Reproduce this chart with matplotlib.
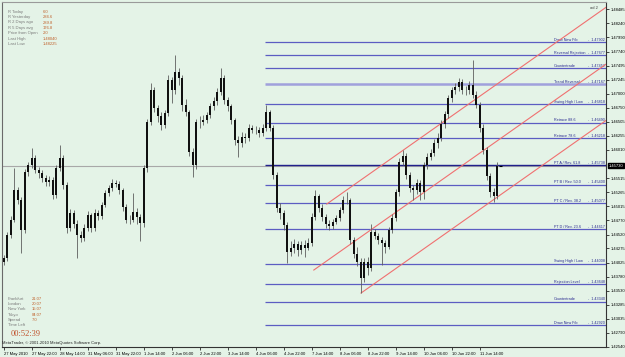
import matplotlib
matplotlib.use("Agg")
import matplotlib.pyplot as plt
from matplotlib.transforms import blended_transform_factory

W, H = 625, 357
BASE = 1.40          # candle values are in pips above this price
PIP = 0.0001

# 2-hour candles, 27 May 2010 06:00 .. 11 Jun 2010
first_open = 404
closes = [411, 451, 478, 530, 513, 460, 562, 574, 587, 565, 560, 551, 544, 548, 522, 569,
          587, 539, 463, 490, 471, 451, 446, 463, 486, 463, 490, 485, 504, 525, 534, 543,
          541, 530, 500, 478, 478, 492, 483, 472, 569, 650, 706, 675, 661, 645, 666, 724,
          706, 738, 728, 680, 668, 597, 574, 650, 650, 654, 662, 678, 687, 703, 728, 689,
          678, 654, 618, 613, 624, 622, 640, 636, 636, 631, 640, 668, 640, 557, 499, 490,
          469, 421, 428, 435, 425, 434, 428, 437, 483, 520, 499, 483, 471, 467, 474, 481,
          495, 513, 513, 442, 418, 404, 375, 404, 393, 456, 450, 442, 437, 430, 460, 481,
          527, 580, 590, 557, 534, 530, 543, 527, 574, 589, 596, 613, 622, 647, 664, 692,
          706, 712, 721, 706, 706, 715, 698, 680, 640, 601, 555, 527, 520, 573]
highs = [416, 456, 484, 569, 536, 518, 568, 580, 604, 592, 571, 566, 556, 555, 553, 574,
         610, 592, 545, 497, 495, 477, 458, 470, 494, 490, 497, 495, 510, 531, 540, 549,
         548, 546, 534, 505, 486, 525, 498, 488, 575, 656, 719, 712, 680, 668, 672, 733,
         730, 768, 745, 733, 690, 672, 604, 656, 660, 662, 668, 684, 694, 710, 745, 733,
         695, 682, 658, 625, 632, 630, 646, 645, 643, 641, 646, 680, 672, 644, 562, 508,
         495, 474, 440, 445, 440, 440, 442, 446, 490, 530, 524, 505, 488, 477, 480, 487,
         501, 519, 527, 517, 448, 430, 410, 410, 412, 470, 462, 455, 448, 442, 466, 488,
         533, 586, 601, 595, 562, 540, 550, 548, 580, 595, 602, 620, 630, 653, 670, 698,
         712, 718, 728, 726, 714, 722, 759, 704, 685, 646, 606, 560, 534, 580]
lows = [398, 406, 446, 474, 506, 419, 455, 555, 570, 560, 552, 545, 537, 538, 515, 517,
        564, 532, 455, 458, 464, 410, 438, 440, 458, 456, 458, 478, 480, 500, 520, 529,
        535, 524, 494, 472, 470, 474, 470, 440, 466, 562, 644, 668, 650, 636, 640, 660,
        683, 700, 716, 670, 660, 590, 553, 568, 640, 645, 648, 657, 672, 680, 698, 682,
        670, 646, 610, 589, 606, 614, 616, 630, 629, 624, 626, 635, 634, 550, 492, 480,
        460, 402, 414, 420, 415, 418, 412, 424, 432, 478, 492, 476, 464, 460, 462, 470,
        476, 490, 505, 436, 410, 396, 349, 368, 381, 388, 444, 436, 398, 420, 426, 455,
        476, 520, 574, 550, 527, 513, 524, 513, 515, 568, 583, 590, 605, 616, 640, 658,
        686, 700, 705, 700, 698, 700, 692, 674, 632, 594, 548, 518, 509, 515]

time_labels = ["27 May 2010", "27 May 22:00", "28 May 14:00", "31 May 06:00", "31 May 22:00",
               "1 Jun 14:00", "2 Jun 06:00", "2 Jun 22:00", "3 Jun 14:00", "4 Jun 06:00",
               "4 Jun 22:00", "7 Jun 14:00", "8 Jun 06:00", "8 Jun 22:00", "9 Jun 14:00",
               "10 Jun 06:00", "10 Jun 22:00", "11 Jun 14:00"]
bars_per_label = 8

price_ticks = [1.48485, 1.48240, 1.47990, 1.47740, 1.47495, 1.47245, 1.47000, 1.46750,
               1.46505, 1.46255, 1.46010, 1.45515, 1.45265, 1.45015, 1.44770, 1.44520,
               1.44275, 1.44025, 1.43780, 1.43530, 1.43285, 1.43035, 1.42790, 1.42540]

level_names = ["Draw New Fib", "Reversal Rejection", "Countertrade", "Trend Reversal",
               "Swing High / Low", "Retrace 88.6", "Retrace 78.6", "PT A / Rev. 61.8",
               "PT B / Rev. 50.0", "PT C / Rev. 38.2", "PT D / Rev. 23.6", "Swing High / Low",
               "Rejection Level", "Countertrade", "Draw New Fib"]
level_prices = [1.47902, 1.47677, 1.47452, 1.47167, 1.46818, 1.46490, 1.46218, 1.45738,
                1.45400, 1.45077, 1.44617, 1.44008, 1.43648, 1.43340, 1.42920]
level_start_bar = 74.6

# channel: anchor bar, anchor price, slope per bar
chan_bars = [92.3, 88.6, 102.1]
chan_prices = [1.45057, 1.43895, 1.43490]
chan_slope = 0.000434

info_labels = ["R Today", "R Yesterday", "R 2 Days ago", "R 5 Days avg",
               "Price from Open", "Last High", "Last Low"]
info_values = ["6.0", "284.6", "289.8", "176.8", "2.0", "1.48040", "1.48225"]
session_labels = ["Frankfurt", "London", "New York", "Tokyo", "Spread", "Time Left"]
session_values = ["21:07", "20:07", "15:07", "04:07", "7.0", ""]
time_left = "00:52:39"

BG = "#e4f3e7"
FONT = "Liberation Sans"
plt.rcParams["font.family"] = FONT


def fx(px):
    return px / W


def fy(py):
    return 1 - py / H


fig = plt.figure(figsize=(W / 100, H / 100), dpi=100)
fig.patch.set_facecolor(BG)
ax = fig.add_axes([fx(2), fy(347), fx(604), 345 / H])
ax.set_facecolor(BG)

n = len(closes)
idx = list(range(n))
opens = [first_open] + closes[:-1]
o = [BASE + v * PIP for v in opens]
c = [BASE + v * PIP for v in closes]
hi = [BASE + v * PIP for v in highs]
lo = [BASE + v * PIP for v in lows]

xmax = 172.1
ax.set_xlim(-0.5, xmax)
ax.set_ylim(1.42540, 1.48614)

# bid line
ax.axhline(c[-1], color="#a8a8a8", lw=0.8, zorder=1)

# levels
for name, p in zip(level_names, level_prices):
    col, lw = "#5c5cc2", 0.9
    if name == "Trend Reversal":
        col, lw = "#a0a0dc", 1.8
    if name.startswith("PT A"):
        col, lw = "#20208c", 1.0
    ax.hlines(p, level_start_bar, xmax, color=col, lw=lw, zorder=2)
    ax.text(157.1, p + 0.00003, name, fontsize=2.7, color="#2a2a90", ha="left", va="bottom")
    ax.text(171.7, p + 0.00003, f"-  {p:.5f}", fontsize=2.7, color="#2a2a90",
            ha="right", va="bottom")

# channel lines
for b, p in zip(chan_bars, chan_prices):
    ax.plot([b, xmax], [p, p + chan_slope * (xmax - b)], color="#f07070", lw=0.8, zorder=3)

# candles
ax.vlines(idx, lo, hi, color="#5e5e5e", lw=0.6, zorder=4)
bottoms = [min(a, b) for a, b in zip(o, c)]
heights = [max(abs(b - a), 0.00003) for a, b in zip(o, c)]
ax.bar(idx, heights, bottom=bottoms, width=0.55, color="#111111", zorder=5)
ax.hlines(c[-1], n - 0.6, n + 0.3, color="black", lw=0.8, zorder=5)

# axes look
ax.yaxis.tick_right()
ax.set_yticks(price_ticks)
ax.set_yticklabels([f"{t:.5f}" for t in price_ticks], fontsize=3)
ax.tick_params(axis="y", length=2, width=0.5, pad=1.5, colors="black")
ticks_x = list(range(0, n, bars_per_label))[:len(time_labels)]
ax.set_xticks(ticks_x)
ax.set_xticklabels(time_labels, fontsize=3, ha="left")
ax.tick_params(axis="x", length=2, width=0.5, pad=1.5, colors="black")
for s, col in [("left", "#6a6a6a"), ("bottom", "#333333"), ("right", "#333333"), ("top", "#9a9a9a")]:
    ax.spines[s].set_color(col)
    ax.spines[s].set_linewidth(0.8)

# current price box
tr = blended_transform_factory(ax.transAxes, ax.transData)
ax.text(1.004, c[-1], f"{c[-1]:.5f}", transform=tr, fontsize=3, color="white",
        ha="left", va="center", clip_on=False,
        bbox=dict(boxstyle="square,pad=0.15", fc="black", ec="black"))

# info panel
for i, (lab, val) in enumerate(zip(info_labels, info_values)):
    y = 11.7 + i * 5.4
    fig.text(fx(7.5), fy(y), lab, fontsize=3, color="#7a7a7a", va="center")
    fig.text(fx(43), fy(y), val, fontsize=3, color="#c0602a", va="center")

for i, (lab, val) in enumerate(zip(session_labels, session_values)):
    y = 299 + i * 5.2
    fig.text(fx(7.5), fy(y), lab, fontsize=3, color="#7a7a7a", va="center")
    fig.text(fx(32), fy(y), val, fontsize=3, color="#c0602a", va="center")

fig.text(fx(11), fy(334), time_left, fontsize=6, color="#c0502a", va="center",
         family="Liberation Serif")
fig.text(fx(2.5), fy(343), "MetaTrader, \u00a9 2001-2010 MetaQuotes Software Corp.",
         fontsize=3, color="#222222", va="center")
fig.text(fx(590), fy(8), "ad 2", fontsize=3, color="#444444", va="center")

fig.savefig("out.png", dpi=100, facecolor=BG)
